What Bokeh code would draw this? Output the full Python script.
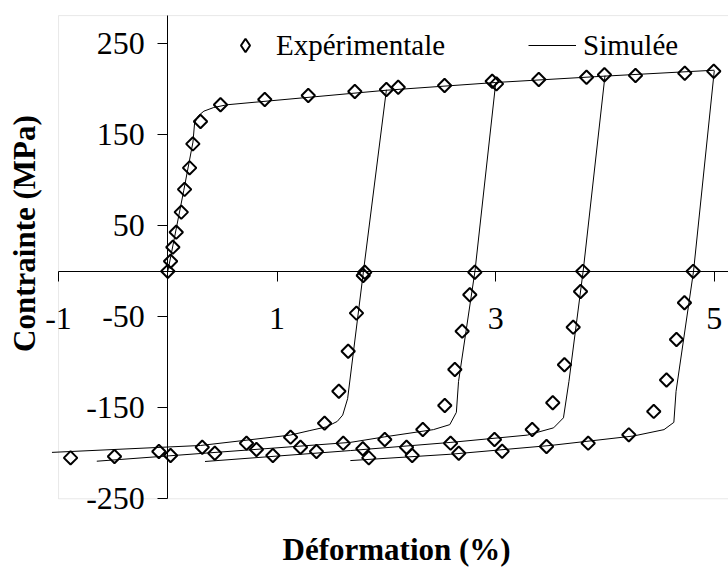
import math
from bokeh.plotting import figure
from bokeh.models import (FixedTicker, Range1d, Legend, LegendItem, Label,
                          ColumnDataSource, BoxAnnotation)
from bokeh.embed import file_html
from bokeh.resources import INLINE

# ---------------- data (strain %, stress MPa) ----------------
# experimental points - monotonic loading branch
exp_load_x = [0.0, 0.025, 0.046, 0.077, 0.123, 0.153, 0.199, 0.229, 0.299, 0.482,
              0.887, 1.285, 1.711, 2.0, 2.108, 2.532, 2.968, 3.007, 3.394, 3.831,
              3.995, 4.279, 4.73, 4.995]
exp_load_y = [0.0, 11, 26.5, 43, 65, 90, 113.7, 140, 164.6, 183,
              188.8, 193.2, 197.6, 199.8, 202.3, 204.2, 208.9, 206, 210.8, 213.3,
              216, 215.2, 217.7, 219.9]
# experimental points - unloading / compression, cycle 1..4
exp_c1_x = [1.802, 1.788, 1.726, 1.65, 1.565, 1.434, 1.123, 0.72, 0.315, -0.082, -0.488, -0.89]
exp_c1_y = [-1.0, -4.6, -46, -87.8, -131.8, -166.9, -182.3, -188.9, -193.3, -198, -203.5, -205]
exp_c2_x = [2.809, 2.763, 2.693, 2.626, 2.534, 2.333, 1.985, 1.605, 1.214, 0.811, 0.43, 0.025]
exp_c2_y = [-1.0, -25.8, -65.8, -107.9, -147.5, -173.8, -184.8, -188.9, -193.3, -195.8, -199.9, -202.4]
exp_c3_x = [3.797, 3.776, 3.709, 3.629, 3.522, 3.334, 2.989, 2.587, 2.184, 1.784, 1.36, 0.961]
exp_c3_y = [0.0, -22.2, -61.4, -102.7, -144.5, -173.8, -184.8, -188.9, -193.3, -195, -198, -202.4]
exp_c4_x = [4.807, 4.727, 4.654, 4.563, 4.446, 4.218, 3.846, 3.465, 3.059, 2.662, 2.236, 1.839]
exp_c4_y = [0.0, -34.6, -74.9, -119.5, -154, -179.7, -188.9, -192.5, -197.7, -199.9, -202.4, -205]

# simulated curves
sim_load_x = [0.0, 0.146, 0.23, 0.245, 0.28, 0.33, 0.42, 0.54, 2.0, 3.0, 4.0, 5.0]
sim_load_y = [0.0, 89, 142, 163, 171, 176, 180, 183, 199, 207.5, 214.5, 221]
sim_c1_x = [2.0, 1.79, 1.645, 1.6, 1.55, 1.45, 1.3, 1.12, 0.3, -1.06]
sim_c1_y = [199.5, 0, -140, -158, -165, -171, -175, -180, -191.4, -199]
sim_c2_x = [3.0, 2.81, 2.66, 2.64, 2.58, 2.43, 1.98, 1.67, -0.65]
sim_c2_y = [207, 0, -121, -155, -168.5, -174, -182, -188, -208.7]
sim_c3_x = [4.0, 3.8, 3.67, 3.62, 3.53, 3.29, 2.59, 1.67, 0.34]
sim_c3_y = [215, 0, -121, -161, -172, -180, -188, -197, -209]
sim_c4_x = [5.0, 4.81, 4.65, 4.63, 4.54, 4.26, 3.5, 2.59, 1.67]
sim_c4_y = [220.5, 0, -132, -166, -174, -181, -191.4, -201, -208]

x_ticks = [-1, 1, 3, 5]
x_tick_labels = ["-1", "1", "3", "5"]
y_ticks = [-250, -150, -50, 50, 150, 250]
y_tick_labels = ["-250", "-150", "-50", "50", "150", "250"]

# plot area (axis limits)
x_min, x_max = -1, 5.2
y_min, y_max = -250, 281

x_title = "Déformation (%)"
y_title = "Contrainte (MPa)"
legend_exp = "Expérimentale"
legend_sim = "Simulée"

# ---------------- figure ----------------
FONT = "Liberation Serif"
GRAY = "#b3b3b3"

# the canvas is used as the frame; ranges are widened so that the
# plot area [x_min, x_max] x [y_min, y_max] sits where the reference has it
p = figure(width=728, height=568, output_backend="svg", toolbar_location=None,
           x_range=Range1d(-1.531, 5.130), y_range=Range1d(-326.6, 297.6),
           min_border=0, min_border_left=0, min_border_right=0,
           min_border_top=0, min_border_bottom=0,
           background_fill_color="white", border_fill_color="white",
           outline_line_color=None)
p.grid.visible = False

# gray plot-area border (left, top, bottom)
p.add_layout(BoxAnnotation(left=x_min, right=6.5, bottom=y_min, top=y_max,
                           fill_color=None, fill_alpha=0.0, line_color=GRAY,
                           line_width=1, level="underlay"))

# main axes crossing at the origin
xa = p.xaxis[0]
ya = p.yaxis[0]
xa.fixed_location = 0
ya.fixed_location = 0
xa.bounds = (x_min, 6.5)
ya.bounds = (y_min, y_max)
xa.ticker = FixedTicker(ticks=x_ticks)
ya.ticker = FixedTicker(ticks=y_ticks)
xa.major_label_overrides = {t: s for t, s in zip(x_ticks, x_tick_labels)}
ya.major_label_overrides = {t: s for t, s in zip(y_ticks, y_tick_labels)}
for ax in (xa, ya):
    ax.axis_line_color = "black"
    ax.axis_line_width = 1
    ax.major_tick_line_color = "black"
    ax.major_tick_in = 0
    ax.major_tick_out = 10
    ax.minor_tick_line_color = None
    ax.minor_tick_in = 0
    ax.minor_tick_out = 0
    ax.major_label_text_font = FONT
    ax.major_label_text_font_size = "32px"
    ax.major_label_text_color = "black"
xa.major_label_standoff = 27
ya.major_label_standoff = 13

# simulated curves
line_kw = dict(line_color="black", line_width=1)
r_sim = p.line(sim_load_x, sim_load_y, **line_kw)
for sx, sy in ((sim_c1_x, sim_c1_y), (sim_c2_x, sim_c2_y),
               (sim_c3_x, sim_c3_y), (sim_c4_x, sim_c4_y)):
    p.line(sx, sy, **line_kw)

# experimental points (hollow diamonds = squares turned by 45 degrees)
all_x = exp_load_x + exp_c1_x + exp_c2_x + exp_c3_x + exp_c4_x
all_y = exp_load_y + exp_c1_y + exp_c2_y + exp_c3_y + exp_c4_y
src = ColumnDataSource(dict(x=all_x, y=all_y))
p.scatter("x", "y", source=src, marker="square", size=9.5,
          angle=math.pi / 4, fill_color="white", fill_alpha=0.0,
          line_color="black", line_width=2)
# hidden renderer used only for the legend sample (legend glyphs are not rotated)
r_exp_leg = p.scatter("x", "y", source=src, marker="diamond", size=12,
                      fill_color="white", fill_alpha=0.0,
                      line_color="black", line_width=2, visible=False)

legend = Legend(items=[LegendItem(label=legend_exp, renderers=[r_exp_leg]),
                       LegendItem(label=legend_sim, renderers=[r_sim])],
                orientation="horizontal", location=(221, 506),
                glyph_width=48, glyph_height=34, label_standoff=7, spacing=83,
                padding=0, margin=0, border_line_color=None,
                background_fill_alpha=0.0, label_text_font=FONT,
                label_text_font_size="29px", label_text_color="black",
                label_height=34, inactive_fill_alpha=0.0)
p.add_layout(legend, "center")

p.add_layout(Label(x=2.093, y=-305.5, text=x_title, text_align="center",
                   text_baseline="middle", text_font=FONT, text_font_style="bold",
                   text_font_size="31px", text_color="black"))
p.add_layout(Label(x=-1.311, y=41.5, text=y_title, angle=math.pi / 2,
                   text_align="center", text_baseline="middle", text_font=FONT,
                   text_font_style="bold", text_font_size="31px",
                   text_color="black"))

open("out.html", "w").write(file_html(p, INLINE))
